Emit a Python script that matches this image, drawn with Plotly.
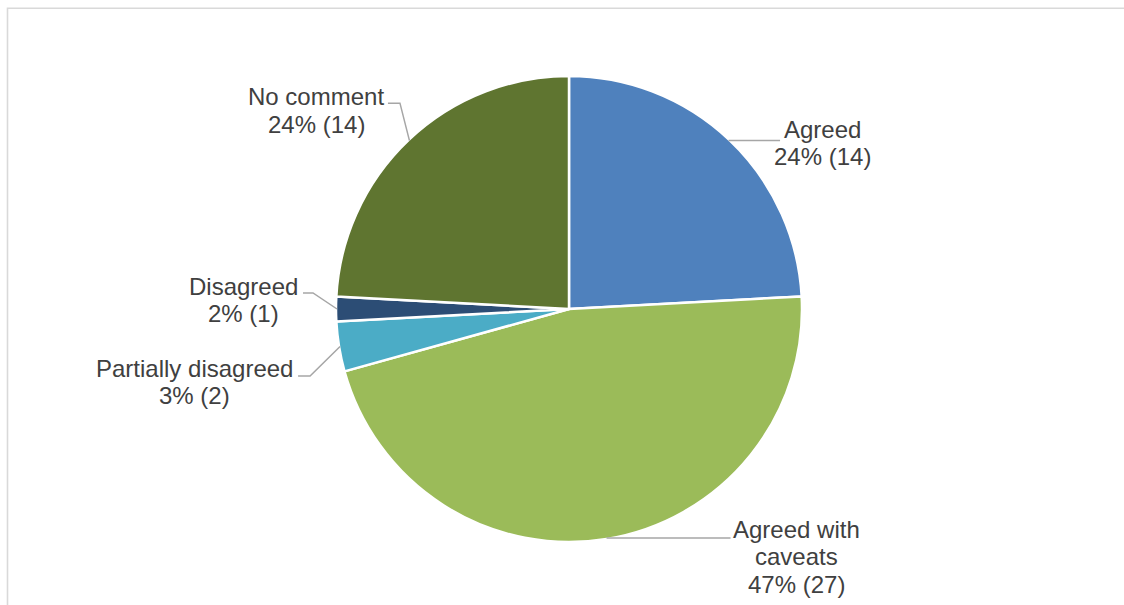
import math
import plotly.graph_objects as go

# Survey responses
categories = ["Agreed", "Agreed with caveats", "Partially disagreed", "Disagreed", "No comment"]
counts = [14, 27, 2, 1, 14]
label_lines = [["Agreed"], ["Agreed with", "caveats"], ["Partially disagreed"], ["Disagreed"], ["No comment"]]
colors = ["#4F81BD", "#9BBB59", "#4BACC6", "#2C4D75", "#5F7530"]

W, H = 1124, 605
CX, CY, R = 569, 309, 232          # pie centre and radius in pixels
PAD = 1                            # domain allowance for plotly's inner pie padding
FONT = dict(family="Liberation Sans, Arial, sans-serif", size=24, color="#404040")
LINE_STEP = 27.5
LEADER = "#A6A6A6"

# Per-slice label placement: text centre offset from the slice edge point,
# optional elbow offset, and horizontal tail length of the leader line.
label_style = [
    dict(text=(93.5, -11.5), elbow=(0, 0), tail=51.5),
    dict(text=(190, -8.5), elbow=(0, 0), tail=124),
    dict(text=(-145.5, 21.5), elbow=(-30, 29.5), tail=-12),
    dict(text=(-94, -23), elbow=(-24, -16), tail=-10),
    dict(text=(-93, -44), elbow=(-9.5, -37.4), tail=-12),
]

total = sum(counts)

fig = go.Figure()
fig.add_trace(go.Pie(
    labels=categories, values=counts, sort=False, direction="clockwise", rotation=0,
    marker=dict(colors=colors, line=dict(color="white", width=2.5)),
    textinfo="none", hoverinfo="label+value+percent", showlegend=False,
    domain=dict(x=[(CX - R - PAD) / W, (CX + R + PAD) / W],
                y=[1 - (CY + R + PAD) / H, 1 - (CY - R - PAD) / H]),
))
# invisible pixel-space axes used for labels and leader lines
fig.add_trace(go.Scatter(x=[None], y=[None], mode="markers", showlegend=False, hoverinfo="skip"))

shapes = [dict(type="rect", xref="x", yref="y", x0=7.5, y0=8.2, x1=W + 10, y1=H + 10,
               line=dict(color="#D9D9D9", width=1.6), fillcolor="rgba(0,0,0,0)", layer="below")]
annotations = []

cum = 0
for cat, cnt, lines, st in zip(categories, counts, label_lines, label_style):
    mid = (cum + cnt / 2) / total * 2 * math.pi
    cum += cnt
    ex, ey = CX + R * math.sin(mid), CY - R * math.cos(mid)
    bx, by = ex + st["elbow"][0], ey + st["elbow"][1]
    tx = bx + st["tail"]
    path = f"M {ex:.2f},{ey:.2f} L {bx:.2f},{by:.2f} L {tx:.2f},{by:.2f}"
    shapes.append(dict(type="path", xref="x", yref="y", path=path,
                       line=dict(color=LEADER, width=1.5), layer="above"))
    pct = round(100 * cnt / total)
    text_lines = lines + [f"{pct}% ({cnt})"]
    lx, ly = ex + st["text"][0], ey + st["text"][1]
    for k, t in enumerate(text_lines):
        annotations.append(dict(x=lx, y=ly + k * LINE_STEP, xref="x", yref="y", text=t,
                                showarrow=False, xanchor="center", yanchor="middle",
                                font=FONT))

fig.update_layout(
    width=W, height=H, margin=dict(l=0, r=0, t=0, b=0),
    paper_bgcolor="white", plot_bgcolor="white",
    xaxis=dict(range=[0, W], visible=False, fixedrange=True),
    yaxis=dict(range=[H, 0], visible=False, fixedrange=True),
    shapes=shapes, annotations=annotations, showlegend=False,
)

fig.write_html("out.html")
